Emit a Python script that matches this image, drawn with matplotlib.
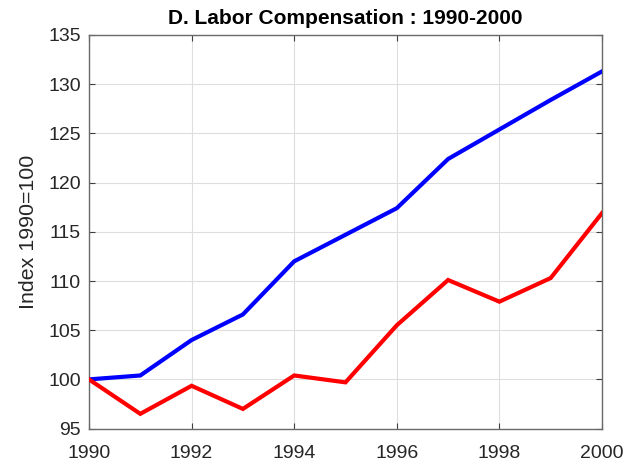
import matplotlib
matplotlib.use("Agg")
import matplotlib.pyplot as plt

years = [1990, 1991, 1992, 1993, 1994, 1995, 1996, 1997, 1998, 1999, 2000]
blue_series = [100.0, 100.4, 104.0, 106.6, 112.0, 114.7, 117.4, 122.4, 125.4, 128.4, 131.3]
red_series = [100.0, 96.5, 99.35, 97.0, 100.4, 99.7, 105.5, 110.1, 107.9, 110.3, 116.9]
xticks = [1990, 1992, 1994, 1996, 1998, 2000]
yticks = [95, 100, 105, 110, 115, 120, 125, 130, 135]

plt.rcParams['font.family'] = ['Liberation Sans', 'DejaVu Sans']

fig = plt.figure(figsize=(6.37, 4.67), dpi=100)
ax = fig.add_axes([89/637, 1-428.6/467, (602-89)/637, (428.6-35)/467])

ax.plot(years, blue_series, color='#0000ff', lw=3, solid_joinstyle='miter', zorder=3)
ax.plot(years, red_series, color='#ff0000', lw=3, solid_joinstyle='miter', zorder=3)

ax.set_xlim(1990, 2000)
ax.set_ylim(95, 135)
ax.set_xticks(xticks)
ax.set_yticks(yticks)
ax.grid(True, color='#dedede', lw=0.8)
ax.tick_params(direction='in', top=True, right=True, labelsize=14, colors='#404040',
               labelcolor='#262626', length=4, width=0.8)
ax.tick_params(axis='x', pad=11.5)
ax.tick_params(axis='y', pad=6)
for s in ax.spines.values():
    s.set_color('#6a6a6a')
    s.set_linewidth(1.0)

ax.set_ylabel('Index 1990=100', fontsize=15.4, color='#262626', labelpad=7)
ax.set_title('D. Labor Compensation : 1990-2000', fontsize=15, fontweight='bold', color='black', pad=8)

fig.savefig('out.png', dpi=100)
